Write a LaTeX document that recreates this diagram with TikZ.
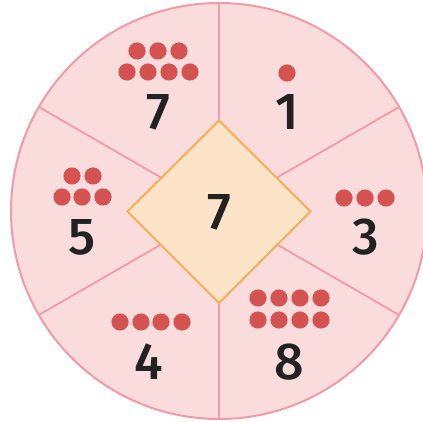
\documentclass[tikz,border=0pt]{standalone}
\usepackage{fontspec}
\newfontfamily\numfont{Fira Sans}[UprightFont=* Medium]
\usetikzlibrary{positioning}
\definecolor{sectorpink}{HTML}{FADCDD}
\definecolor{rimpink}{HTML}{F29AA5}
\definecolor{dotred}{HTML}{D4524F}
\definecolor{diafill}{HTML}{FDE3C8}
\definecolor{diaedge}{HTML}{F7AE55}
\definecolor{numink}{HTML}{222222}

\begin{document}
\begin{tikzpicture}[x=0.5pt,y=-0.5pt]
\tikzset{
  wheel/.style={fill=sectorpink,draw=rimpink,line width=1pt},
  spoke/.style={draw=rimpink,line width=0.9pt},
  centrebox/.style={fill=diafill,draw=diaedge,line width=1pt,line join=miter},
  counter/.style={fill=dotred},
  numlabel/.style={font=\numfont\fontsize{26}{26}\selectfont,text=numink,inner sep=0pt}
}
\useasboundingbox (0,0) rectangle (423,422);
\coordinate (c) at (219,211);
\draw[wheel] (c) circle (104pt);
\foreach \a in {30,90,...,330}
  \draw[spoke] (c) -- ++(\a:104pt);
% centre diamond
\draw[centrebox] (219,120.5) -- (310.5,211.5) -- (219,303) -- (127.5,211.5) -- cycle;
\node[numlabel] (centre) at (219,212) {7};
% sector numbers
\node[numlabel] (n_seven) at (158,112) {7};
\node[numlabel] (n_one) at (287,112) {1};
\node[numlabel] (n_three) at (366,237) {3};
\node[numlabel] (n_eight) at (289,362) {8};
\node[numlabel] (n_four) at (149,362) {4};
\node[numlabel] (n_five) at (82,237) {5};
% counters
\foreach \x in {137,158,179} \fill[counter] (\x,51) circle (4.3pt);
\foreach \x in {127,148,169,190} \fill[counter] (\x,72) circle (4.3pt);
\fill[counter] (287,73) circle (4.3pt);
\foreach \x in {344,365,386} \fill[counter] (\x,198) circle (4.3pt);
\foreach \y in {298,320}
  \foreach \x in {258,279,300,321} \fill[counter] (\x,\y) circle (4.3pt);
\foreach \x in {120,141,161,182} \fill[counter] (\x,322) circle (4.3pt);
\foreach \x in {72,93} \fill[counter] (\x,176) circle (4.3pt);
\foreach \x in {62,82,103} \fill[counter] (\x,197) circle (4.3pt);
\end{tikzpicture}
\end{document}
